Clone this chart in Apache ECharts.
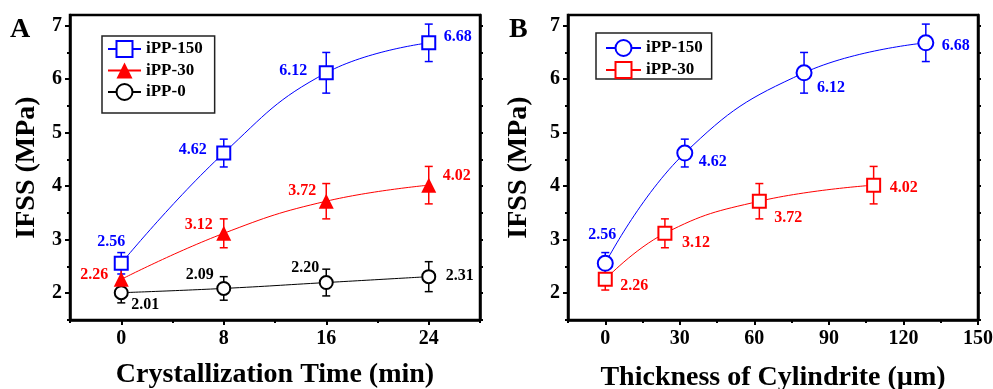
<!DOCTYPE html>
<html>
<head>
<meta charset="utf-8">
<script src="https://cdn.jsdelivr.net/npm/echarts@6/dist/echarts.min.js"></script>
<style>html,body{margin:0;padding:0;background:#fff;}#c{width:993px;height:389px;}</style>
</head>
<body>
<div id="c"></div>
<script>
// ---- data ----
const timeMin = [0, 8, 16, 24];
const thick150 = [0, 32, 80, 129];
const thick30 = [0, 24, 62, 108];
const ifss150 = [2.56, 4.62, 6.12, 6.68];
const ifss30 = [2.26, 3.12, 3.72, 4.02];
const ifss0 = [2.01, 2.09, 2.20, 2.31];
const err150 = [0.20, 0.26, 0.38, 0.35];
const err30 = [0.20, 0.27, 0.33, 0.35];
const err0 = [0.19, 0.22, 0.25, 0.28];
const yMajor = [2, 3, 4, 5, 6, 7];
const yMinor = [1.5, 2.5, 3.5, 4.5, 5.5, 6.5];
const yRight = [1.5, 2, 2.5, 3, 3.5, 4, 4.5, 5, 5.5, 6, 6.5, 7];
const xMajorA = [0, 8, 16, 24];
const xMinorA = [-4, 4, 12, 20, 28];
const xMajorB = [0, 30, 60, 90, 120, 150];
const xMinorB = [-15, 15, 45, 75, 105, 135];

// ---- label placement (style, px offsets from marker centre) ----
const offA150 = [[-10, -21], [-31, -3], [-33, -2], [29, -6]];
const offA30 = [[-27, -4], [-25, -8], [-24, -10], [28, -9]];
const offA0 = [[24, 12], [-24, -14], [-21, -15], [31, -1]];
const offB150 = [[-3, -28], [28, 9], [27, 15], [30, 3]];
const offB30 = [[29, 7], [31, 10], [29, 17], [30, 3]];

const FONT = '"Liberation Serif", "Times New Roman", serif';
const BLUE = '#0000ff', RED = '#ff0000', BLACK = '#000000';

function pts(xs, ys, offs) {
  return xs.map((x, i) => ({
    value: [x, ys[i]],
    label: { offset: offs[i] }
  }));
}
function errData(xs, ys, es) {
  return xs.map((x, i) => [x, ys[i] - es[i], ys[i] + es[i]]);
}
function errRender(params, api) {
  const x = api.value(0), lo = api.value(1), hi = api.value(2);
  const a = api.coord([x, hi]), b = api.coord([x, lo]);
  const w = 4;
  const style = { stroke: api.visual('color'), lineWidth: 1.5 };
  return {
    type: 'group', children: [
      { type: 'line', shape: { x1: a[0], y1: a[1], x2: b[0], y2: b[1] }, style },
      { type: 'line', shape: { x1: a[0] - w, y1: a[1], x2: a[0] + w, y2: a[1] }, style },
      { type: 'line', shape: { x1: b[0] - w, y1: b[1], x2: b[0] + w, y2: b[1] }, style }
    ]
  };
}
function errSeries(xi, yi, data, color) {
  return {
    type: 'custom', xAxisIndex: xi, yAxisIndex: yi, renderItem: errRender,
    itemStyle: { color }, data, z: 1, silent: true,
    encode: { x: 0, y: [1, 2] }
  };
}
function lineSeries(name, xi, yi, data, color, symbol, size, filled) {
  return {
    type: 'line', name, xAxisIndex: xi, yAxisIndex: yi, data,
    smooth: 0.45, symbol, symbolSize: size, showAllSymbol: true, z: 3,
    lineStyle: { color, width: 1 },
    itemStyle: { color: filled ? color : '#ffffff', borderColor: color, borderWidth: filled ? 0 : 2, opacity: 1 },
    label: {
      show: true, position: 'inside', color, fontFamily: FONT, fontWeight: 'bold', fontSize: 16,
      formatter: p => p.value[1].toFixed(2)
    },
    emphasis: { disabled: true }
  };
}

const axisLineStyle = { color: BLACK, width: 2.5 };
const labelStyle = { color: BLACK, fontFamily: FONT, fontWeight: 'bold', fontSize: 20 };
const nameStyle = { color: BLACK, fontFamily: FONT, fontWeight: 'bold', fontSize: 28 };

function xAxes(gi, min, max, major, minor, name, gap) {
  return [
    {
      type: 'value', gridIndex: gi, min, max, position: 'bottom',
      axisLine: { show: true, onZero: false, lineStyle: axisLineStyle },
      axisTick: { show: true, customValues: major, length: 5, lineStyle: { color: BLACK, width: 2 } },
      axisLabel: { customValues: major, margin: 9, ...labelStyle },
      splitLine: { show: false },
      name, nameLocation: 'middle', nameGap: gap, nameTextStyle: nameStyle
    },
    {
      type: 'value', gridIndex: gi, min, max, position: 'bottom',
      axisLine: { show: false, onZero: false },
      axisTick: { show: true, customValues: minor, length: 3, lineStyle: { color: BLACK, width: 2 } },
      axisLabel: { show: false }, splitLine: { show: false }
    }
  ];
}
function yAxes(gi, gap) {
  return [
    {
      type: 'value', gridIndex: gi, min: 1.5, max: 7.2, position: 'left',
      axisLine: { show: true, onZero: false, lineStyle: axisLineStyle },
      axisTick: { show: true, customValues: yMajor, length: 5, lineStyle: { color: BLACK, width: 2 } },
      axisLabel: { customValues: yMajor, margin: 8, ...labelStyle },
      splitLine: { show: false },
      name: 'IFSS (MPa)', nameLocation: 'middle', nameGap: gap, nameTextStyle: nameStyle
    },
    {
      type: 'value', gridIndex: gi, min: 1.5, max: 7.2, position: 'left',
      axisLine: { show: false, onZero: false },
      axisTick: { show: true, customValues: yMinor, length: 3, lineStyle: { color: BLACK, width: 2 } },
      axisLabel: { show: false }, splitLine: { show: false }
    },
    {
      type: 'value', gridIndex: gi, min: 1.5, max: 7.2, position: 'right',
      axisLine: { show: true, onZero: false, lineStyle: axisLineStyle },
      axisTick: { show: true, customValues: yRight, length: 3, lineStyle: { color: BLACK, width: 2 } },
      axisLabel: { show: false }, splitLine: { show: false }
    }
  ];
}

const legendText = { color: BLACK, fontFamily: FONT, fontWeight: 'bold', fontSize: 17 };
const gridBase = { top: 15, width: 410, height: 305, show: true, borderColor: BLACK, borderWidth: 2.5,
  backgroundColor: 'transparent', containLabel: false, outerBoundsMode: 'none' };

const option = {
  animation: false,
  backgroundColor: '#ffffff',
  grid: [
    { ...gridBase, left: 70 },
    { ...gridBase, left: 568 }
  ],
  xAxis: [
    ...xAxes(0, -4, 28, xMajorA, xMinorA, 'Crystallization Time (min)', 41),
    ...xAxes(1, -15, 150, xMajorB, xMinorB, 'Thickness of Cylindrite (\u00b5m)', 44)
  ],
  yAxis: [...yAxes(0, 29), ...yAxes(1, 35)],
  legend: [
    {
      orient: 'vertical', left: 102, top: 36, itemWidth: 33, itemHeight: 20, itemGap: 4,
      padding: [4, 12, 12, 5], borderColor: '#222', borderWidth: 1.5, backgroundColor: '#fff',
      data: ['iPP-150', 'iPP-30', 'iPP-0'], textStyle: legendText, selectedMode: false
    },
    {
      orient: 'vertical', left: 596, top: 33, itemWidth: 35, itemHeight: 20, itemGap: 4,
      padding: [6, 9, 0, 9], borderColor: '#222', borderWidth: 1.5, backgroundColor: '#fff',
      data: ['iPP-150 (B)', 'iPP-30 (B)'], textStyle: legendText, selectedMode: false,
      formatter: n => n.replace(' (B)', '')
    }
  ],
  graphic: [
    { type: 'text', left: 10, top: 16, style: { text: 'A', fill: BLACK, font: 'bold 28px ' + FONT } },
    { type: 'text', left: 509, top: 16, style: { text: 'B', fill: BLACK, font: 'bold 28px ' + FONT } }
  ],
  series: [
    errSeries(0, 0, errData(timeMin, ifss150, err150), BLUE),
    errSeries(0, 0, errData(timeMin, ifss30, err30), RED),
    errSeries(0, 0, errData(timeMin, ifss0, err0), BLACK),
    lineSeries('iPP-0', 0, 0, pts(timeMin, ifss0, offA0), BLACK, 'circle', 13, false),
    lineSeries('iPP-30', 0, 0, pts(timeMin, ifss30, offA30), RED, 'triangle', 15, true),
    lineSeries('iPP-150', 0, 0, pts(timeMin, ifss150, offA150), BLUE, 'rect', 13, false),
    errSeries(2, 3, errData(thick150, ifss150, err150), BLUE),
    errSeries(2, 3, errData(thick30, ifss30, err30), RED),
    lineSeries('iPP-30 (B)', 2, 3, pts(thick30, ifss30, offB30), RED, 'rect', 13, false),
    lineSeries('iPP-150 (B)', 2, 3, pts(thick150, ifss150, offB150), BLUE, 'circle', 15, false)
  ]
};
const chart = echarts.init(document.getElementById('c'), null, { renderer: 'canvas' });
chart.setOption(option);
</script>
</body>
</html>
